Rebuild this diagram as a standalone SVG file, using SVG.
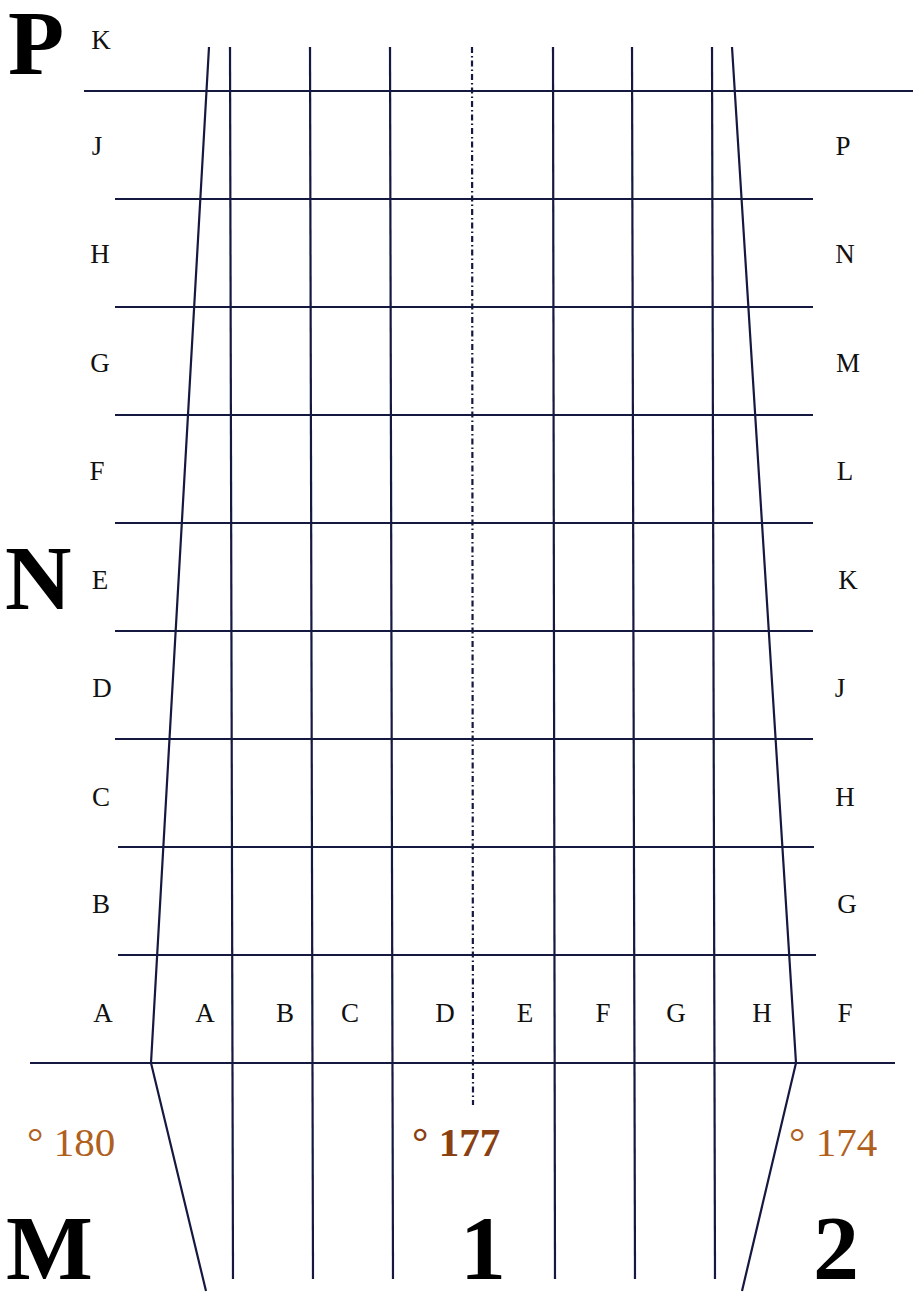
<svg xmlns="http://www.w3.org/2000/svg" width="922" height="1293" viewBox="0 0 922 1293">
<style>
.ln{stroke:#15183f;stroke-width:2.2;fill:none}
.dash{stroke:#15183f;stroke-width:2.2;fill:none;stroke-dasharray:6 3 1.5 3}
.lb{font-family:"Liberation Serif",serif;font-size:27px;fill:#111;text-anchor:middle}
.big{font-family:"Liberation Serif",serif;font-weight:bold;font-size:92px;fill:#000}
.or{font-family:"Liberation Serif",serif;font-size:41px;fill:#b0601c}
.orb{font-family:"Liberation Serif",serif;font-size:41px;fill:#8a4010;font-weight:bold}
</style>
<rect width="922" height="1293" fill="#fff"/>
<g id="grid">
<line class="ln" x1="84" y1="91" x2="913" y2="91"/>
<line class="ln" x1="115" y1="199" x2="813" y2="199"/>
<line class="ln" x1="115" y1="307" x2="813" y2="307"/>
<line class="ln" x1="115" y1="415" x2="813" y2="415"/>
<line class="ln" x1="115" y1="523" x2="813" y2="523"/>
<line class="ln" x1="115" y1="631" x2="813" y2="631"/>
<line class="ln" x1="115" y1="739" x2="813" y2="739"/>
<line class="ln" x1="118" y1="847" x2="814" y2="847"/>
<line class="ln" x1="118" y1="955" x2="816" y2="955"/>
<line class="ln" x1="30" y1="1063" x2="895" y2="1063"/>
<polyline class="ln" points="209,47 151,1063 206,1291"/>
<polyline class="ln" points="732,47 796,1063 742,1291"/>
<line class="ln" x1="230" y1="47" x2="233" y2="1279"/>
<line class="ln" x1="310" y1="47" x2="313" y2="1279"/>
<line class="ln" x1="390" y1="47" x2="393" y2="1279"/>
<line class="ln" x1="553" y1="47" x2="555" y2="1279"/>
<line class="ln" x1="632" y1="47" x2="635" y2="1279"/>
<line class="ln" x1="712" y1="47" x2="715" y2="1279"/>
<line class="dash" x1="472" y1="47" x2="473" y2="1105"/>
</g>
<g id="left-labels">
<text class="lb" x="101" y="49">K</text>
<text class="lb" x="97" y="155">J</text>
<text class="lb" x="100" y="263">H</text>
<text class="lb" x="100" y="372">G</text>
<text class="lb" x="97" y="480">F</text>
<text class="lb" x="100" y="589">E</text>
<text class="lb" x="102" y="697">D</text>
<text class="lb" x="101" y="806">C</text>
<text class="lb" x="101" y="913">B</text>
<text class="lb" x="103" y="1022">A</text>
</g>
<g id="right-labels">
<text class="lb" x="843" y="155">P</text>
<text class="lb" x="845" y="263">N</text>
<text class="lb" x="848" y="372">M</text>
<text class="lb" x="845" y="480">L</text>
<text class="lb" x="848" y="589">K</text>
<text class="lb" x="840" y="697">J</text>
<text class="lb" x="845" y="806">H</text>
<text class="lb" x="847" y="913">G</text>
<text class="lb" x="845" y="1022">F</text>
</g>
<g id="bottom-labels">
<text class="lb" x="205" y="1022">A</text>
<text class="lb" x="285" y="1022">B</text>
<text class="lb" x="350" y="1022">C</text>
<text class="lb" x="445" y="1022">D</text>
<text class="lb" x="525" y="1022">E</text>
<text class="lb" x="603" y="1022">F</text>
<text class="lb" x="676" y="1022">G</text>
<text class="lb" x="762" y="1022">H</text>
</g>
<g id="big-letters">
<text class="big" x="8" y="74">P</text>
<text class="big" x="5" y="609">N</text>
<text class="big" x="6" y="1279">M</text>
<text class="big" x="460" y="1279">1</text>
<text class="big" x="813" y="1279">2</text>
</g>
<g id="values">
<text class="or" x="27" y="1156">° 180</text>
<text class="orb" x="412" y="1156">° 177</text>
<text class="or" x="789" y="1156">° 174</text>
</g>
</svg>
